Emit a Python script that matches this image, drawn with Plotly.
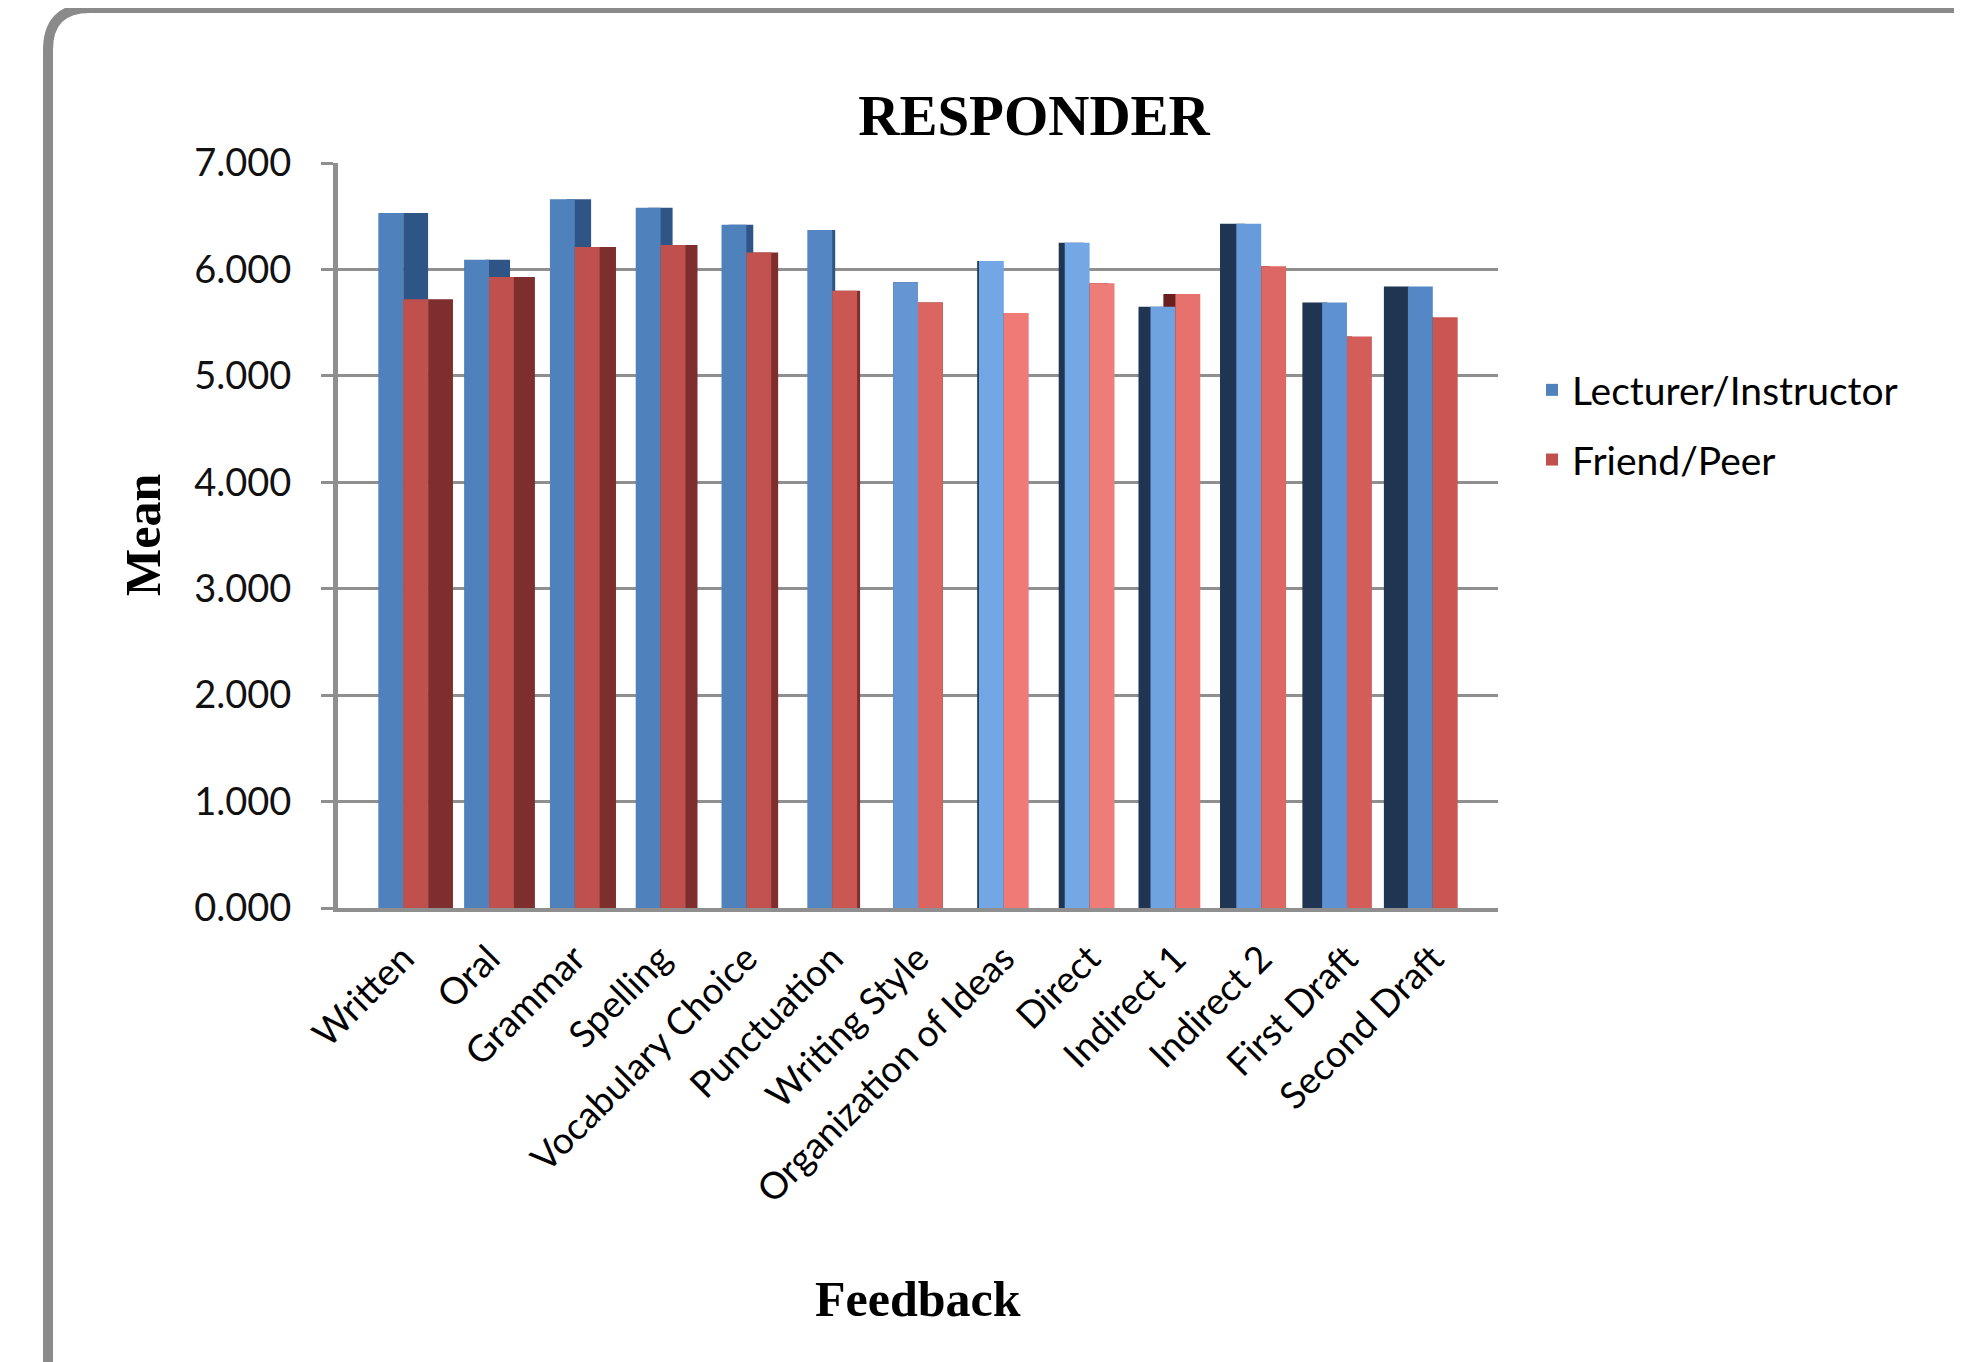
import plotly.graph_objects as go

# ---------------- data ----------------
categories = ["Written", "Oral", "Grammar", "Spelling", "Vocabulary Choice",
              "Punctuation", "Writing Style", "Organization of Ideas", "Direct",
              "Indirect 1", "Indirect 2", "First Draft", "Second Draft"]
lecturer = [6.53, 6.09, 6.66, 6.58, 6.42, 6.37, 5.88, 6.08, 6.25, 5.65, 6.43, 5.69, 5.84]
peer = [5.72, 5.93, 6.21, 6.23, 6.16, 5.80, 5.69, 5.59, 5.87, 5.77, 6.03, 5.37, 5.55]
y_ticks = [0, 1, 2, 3, 4, 5, 6, 7]

# ---------------- style ----------------
W, H = 1962, 1362
L, R, T, B = 330, 1490, 155, 900          # plot area in pixels
# lighting of the 3-D columns (lighter towards the middle-right)
blue_face = ["#4F81BD", "#4F81BD", "#4F81BD", "#4F81BD", "#4F81BD", "#5486C3",
             "#6596D3", "#73A6E4", "#74A7E5", "#6FA2E1", "#679BDB", "#5D91D1", "#5387C6"]
red_face = ["#C0504D", "#C0504D", "#C0504D", "#C0504D", "#C2524F", "#CA5752",
            "#DB6561", "#EF7A76", "#EE7C78", "#E6716D", "#DC6763", "#D25D59", "#CA5551"]
FACE_W = 0.29                              # face width (category units)
# apparent side depth of each 3-D column (+ right side, - left side)
depth = [0.29, 0.245, 0.19, 0.14, 0.08, 0.035, 0.0, -0.02, -0.07, -0.14, -0.19, -0.23, -0.28]
blue_side_col = ["#2F5586" if d > 0 else "#1F3552" for d in depth]
red_side_col = ["#7E2F2D" if d > 0 else "#6A1F1F" for d in depth]
GRID = "#8f8f8f"


def px_x(px):
    return (px - L) / (R - L)


def px_y(py):
    return (B - py) / (B - T)


fig = go.Figure()

# side faces (drawn first, behind the fronts)
fig.add_trace(go.Bar(x=categories, y=lecturer, width=FACE_W,
                     offset=[-FACE_W + d for d in depth],
                     marker=dict(color=blue_side_col, line=dict(width=0)),
                     showlegend=False, hoverinfo="skip"))
fig.add_trace(go.Bar(x=categories, y=peer, width=FACE_W,
                     offset=[d for d in depth],
                     marker=dict(color=red_side_col, line=dict(width=0)),
                     showlegend=False, hoverinfo="skip"))
# front faces
fig.add_trace(go.Bar(x=categories, y=lecturer, width=FACE_W, offset=-FACE_W,
                     name="Lecturer/Instructor", legendgroup="a",
                     marker=dict(color=blue_face, line=dict(width=0))))
fig.add_trace(go.Bar(x=categories, y=peer, width=FACE_W, offset=0,
                     name="Friend/Peer", legendgroup="b",
                     marker=dict(color=red_face, line=dict(width=0))))

# chart frame (rounded border, running off the right/bottom edge)
r = 42
frame = (f"M {px_x(40)} {px_y(1400)} L {px_x(40)} {px_y(r)} "
         f"Q {px_x(40)} {px_y(0)} {px_x(40 + r)} {px_y(0)} L {px_x(2010)} {px_y(0)}")
fig.add_shape(type="path", path=frame, xref="paper", yref="paper",
              line=dict(color="#8a8a8a", width=10), layer="above")

serif = "Liberation Serif, Times New Roman, serif"
sans = "Lato, Carlito, Calibri, sans-serif"

fig.add_annotation(text="<b>Mean</b>", xref="paper", yref="paper",
                   x=px_x(135), y=px_y(527), textangle=-90, showarrow=False,
                   xanchor="center", yanchor="middle",
                   font=dict(family=serif, size=50, color="#000000"))
fig.add_annotation(text="<b>Feedback</b>", xref="paper", yref="paper",
                   x=px_x(910), y=px_y(1291), showarrow=False,
                   xanchor="center", yanchor="middle",
                   font=dict(family=serif, size=50, color="#000000"))

fig.update_layout(
    width=W, height=H,
    margin=dict(l=L, r=W - R, t=T, b=H - B, pad=0),
    paper_bgcolor="white", plot_bgcolor="white",
    barmode="overlay",
    title=dict(text="<b>RESPONDER</b>", x=1026 / W, y=1 - 107 / H,
               xanchor="center", yanchor="middle", xref="container", yref="container",
               font=dict(family=serif, size=57, color="#000000")),
    legend=dict(x=px_x(1524), y=px_y(350), xanchor="left", yanchor="top",
                font=dict(family=sans, size=39, color="#000000"),
                tracegroupgap=16, traceorder="grouped",
                bgcolor="rgba(0,0,0,0)"),
    font=dict(family=sans, size=38, color="#000000"),
)

fig.update_xaxes(type="category", categoryorder="array", categoryarray=categories,
                 range=[-0.76, 12.76], showgrid=False, showline=True,
                 linecolor=GRID, linewidth=4, ticks="", tickangle=-45,
                 ticklabelstandoff=10,
                 tickfont=dict(family=sans, size=37, color="#000000"))
fig.update_yaxes(range=[0, 7], tickvals=y_ticks,
                 ticktext=[f"{v:.3f}" for v in y_ticks],
                 showgrid=True, gridcolor=GRID, gridwidth=3, zeroline=False,
                 showline=True, linecolor=GRID, linewidth=5,
                 ticks="outside", ticklen=12, tickwidth=3, tickcolor=GRID,
                 ticklabelstandoff=22,
                 tickfont=dict(family=sans, size=38, color="#111111"))

fig.write_html("out.html")
